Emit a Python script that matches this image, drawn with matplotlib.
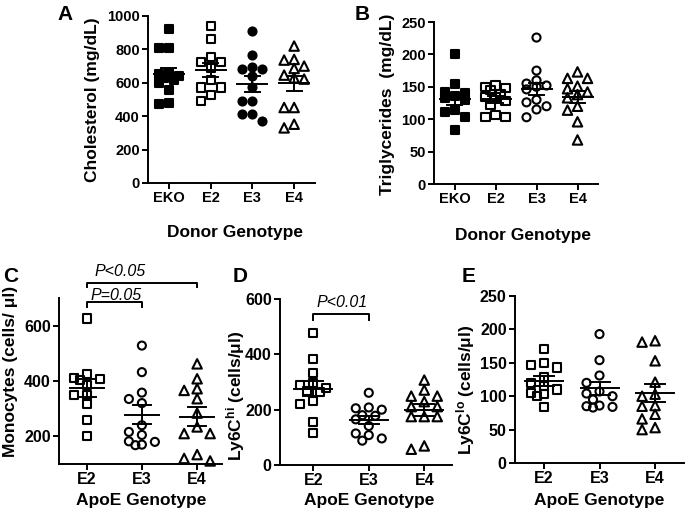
import matplotlib
matplotlib.use('Agg')
import matplotlib.pyplot as plt
import numpy as np

plt.rcParams['font.family'] = ['Liberation Sans', 'DejaVu Sans']
plt.rcParams['font.weight'] = 'bold'
plt.rcParams['mathtext.fontset'] = 'custom'
plt.rcParams['mathtext.rm'] = 'Liberation Sans'
plt.rcParams['mathtext.it'] = 'Liberation Sans:italic'
plt.rcParams['mathtext.bf'] = 'Liberation Sans:bold'

# --- data ---
donor_cats = ['EKO', 'E2', 'E3', 'E4']
apoe_cats = ['E2', 'E3', 'E4']

chol_eko = [920, 806, 806, 660, 650, 640, 630, 615, 600, 556, 474, 480]
chol_e2 = [940, 860, 752, 726, 726, 690, 616, 572, 572, 526, 490]
chol_e3 = [912, 766, 696, 680, 680, 640, 572, 492, 492, 416, 416, 370]
chol_e4 = [820, 740, 736, 700, 686, 646, 630, 622, 452, 452, 352, 330]

tg_eko = [200, 154, 142, 141, 136, 133, 130, 114, 111, 104, 84]
tg_e2 = [152, 150, 148, 145, 139, 134, 134, 128, 122, 106, 104, 104]
tg_e3 = [226, 175, 160, 155, 152, 150, 146, 130, 126, 120, 115, 103]
tg_e4 = [173, 163, 163, 151, 147, 142, 138, 133, 120, 114, 96, 68]

mono_e2 = [626, 426, 411, 408, 405, 384, 348, 348, 316, 260, 200]
mono_e3 = [528, 432, 358, 335, 320, 240, 216, 205, 182, 180, 170, 168]
mono_e4 = [462, 408, 372, 366, 336, 284, 234, 210, 210, 134, 120, 111]

hi_e2 = [476, 382, 334, 296, 290, 277, 269, 265, 231, 219, 157, 114]
hi_e3 = [261, 208, 205, 200, 180, 178, 165, 141, 114, 108, 96, 88]
hi_e4 = [307, 271, 249, 249, 229, 211, 211, 175, 175, 175, 69, 57]

lo_e2 = [170, 150, 146, 143, 128, 120, 115, 110, 105, 103, 100, 84]
lo_e3 = [193, 154, 131, 120, 107, 104, 100, 95, 86, 85, 84, 83]
lo_e4 = [183, 181, 153, 121, 103, 100, 86, 85, 73, 66, 53, 50]

W, H = 688, 516
fig = plt.figure(figsize=(W / 100, H / 100), dpi=100)


def swarm(vals, ppu_x, ppu_y, step, dmin):
    # spread close values sideways, at most one column each side
    vals = np.asarray(vals, float)
    offs = np.zeros(len(vals))
    placed = []
    cands = [0, -1, 1, -0.5, 0.5]
    for i in np.argsort(-vals):
        y = vals[i] * ppu_y
        best, best_d = 0, -1
        for k in cands:
            x = k * step
            d = min([np.hypot(x - px, y - py) for px, py in placed] or [99])
            if d >= dmin:
                best = k
                break
            if d > best_d:
                best, best_d = k, d
        x = best * step
        placed.append((x, y))
        offs[i] = x / ppu_x
    return offs


def panel(box, xlim, ylim, yticks, cats, groups, styles, ylabel, ylab_xy,
          xlabel, xlab_xy, tick_fs, step, hw, cap):
    l, r, t, b = box
    ax = fig.add_axes([l / W, 1 - b / H, (r - l) / W, (b - t) / H])
    ax.set_xlim(xlim)
    ax.set_ylim(ylim)
    ppu_x = (r - l) / (xlim[1] - xlim[0])
    ppu_y = (b - t) / (ylim[1] - ylim[0])
    for i, (vals, (mk, filled)) in enumerate(zip(groups, styles)):
        offs = swarm(vals, ppu_x, ppu_y, step, 8.5)
        ax.scatter(i + offs, vals, marker=mk, s=(6.8 if mk == '^' else 5.8) ** 2,
                   facecolors='black' if filled else 'none', edgecolors='black',
                   linewidths=1.5, zorder=3, clip_on=False)
        m = np.mean(vals)
        se = np.std(vals, ddof=1) / np.sqrt(len(vals))
        ax.plot([i - hw / ppu_x, i + hw / ppu_x], [m, m], color='black', lw=1.4, zorder=4)
        ax.plot([i, i], [m - se, m + se], color='black', lw=1.4, zorder=4)
        for v in (m - se, m + se):
            ax.plot([i - cap / ppu_x, i + cap / ppu_x], [v, v], color='black', lw=1.4, zorder=4)
    ax.set_xticks(range(len(cats)))
    ax.set_xticklabels(cats)
    ax.set_yticks(yticks)
    for s in ['top', 'right']:
        ax.spines[s].set_visible(False)
    for s in ['left', 'bottom']:
        ax.spines[s].set_linewidth(1.4)
    ax.tick_params(direction='out', length=4, width=1.4, labelsize=tick_fs, pad=2)
    ax.set_ylabel(ylabel, fontsize=12.5, fontweight='bold')
    ax.yaxis.set_label_coords(*ylab_xy)
    ax.set_xlabel(xlabel, fontsize=12.5, fontweight='bold')
    ax.xaxis.set_label_coords(*xlab_xy)
    return ax


def bracket(ax, x0, x1, y, drop, text, tx, ty):
    ax.plot([x0, x0, x1, x1], [y - drop, y, y, y - drop], color='black', lw=1.4,
            clip_on=False)
    ax.text(tx, ty, text, ha='center', va='baseline', fontsize=11.5,
            style='italic', fontweight='normal')


sq_f, sq_o = ('s', True), ('s', False)

axA = panel((148, 315, 16, 183), (-0.5, 3.5), (0, 1000), range(0, 1001, 200),
            donor_cats, [chol_eko, chol_e2, chol_e3, chol_e4],
            [sq_f, sq_o, ('o', True), ('^', False)],
            'Cholesterol (mg/dL)', (-0.287, 0.5), 'Donor Genotype', (0.52, -0.25),
            10.5, 10, 15, 7.5)

axB = panel((434, 598, 22, 184), (-0.5, 3.5), (0, 250), range(0, 251, 50),
            donor_cats, [tg_eko, tg_e2, tg_e3, tg_e4],
            [sq_f, sq_o, ('o', False), ('^', False)],
            'Triglycerides  (mg/dL)', (-0.238, 0.49), 'Donor Genotype', (0.543, -0.27),
            10.5, 10, 15, 7.5)

axC = panel((59, 222, 298, 464), (-0.5, 2.45), (100, 700), [200, 400, 600],
            apoe_cats, [mono_e2, mono_e3, mono_e4],
            [sq_o, ('o', False), ('^', False)],
            'Monocytes (cells/ μl)', (-0.25, 0.56), 'ApoE Genotype', (0.506, -0.175),
            11.5, 13, 17, 9)

axD = panel((280, 452, 299, 465), (-0.6, 2.5), (0, 600), [0, 200, 400, 600],
            apoe_cats, [hi_e2, hi_e3, hi_e4],
            [sq_o, ('o', False), ('^', False)],
            r'Ly6C$^{\mathrm{hi}}$ (cells/μl)', (-0.19, 0.42), 'ApoE Genotype', (0.517, -0.17),
            11.5, 13, 19, 10)

axE = panel((515, 684, 296, 463), (-0.52, 2.52), (0, 250), range(0, 251, 50),
            apoe_cats, [lo_e2, lo_e3, lo_e4],
            [sq_o, ('o', False), ('^', False)],
            r'Ly6C$^{\mathrm{lo}}$ (cells/μl)', (-0.225, 0.44), 'ApoE Genotype', (0.497, -0.18),
            11.5, 13, 19, 10)

bracket(axC, 0, 1, 687, 20, 'P=0.05', 0.53, 694)
bracket(axC, 0, 2, 755, 15, 'P<0.05', 0.6, 778)
bracket(axD, 0, 1, 545, 20, 'P<0.01', 0.52, 571)

for letter, x, y in [('A', 57, 20), ('B', 355, 20), ('C', 3, 282), ('D', 233, 282), ('E', 462, 282)]:
    fig.text(x / W, 1 - y / H, letter, fontsize=15, fontweight='bold', va='baseline')

fig.savefig('out.png', dpi=100)
